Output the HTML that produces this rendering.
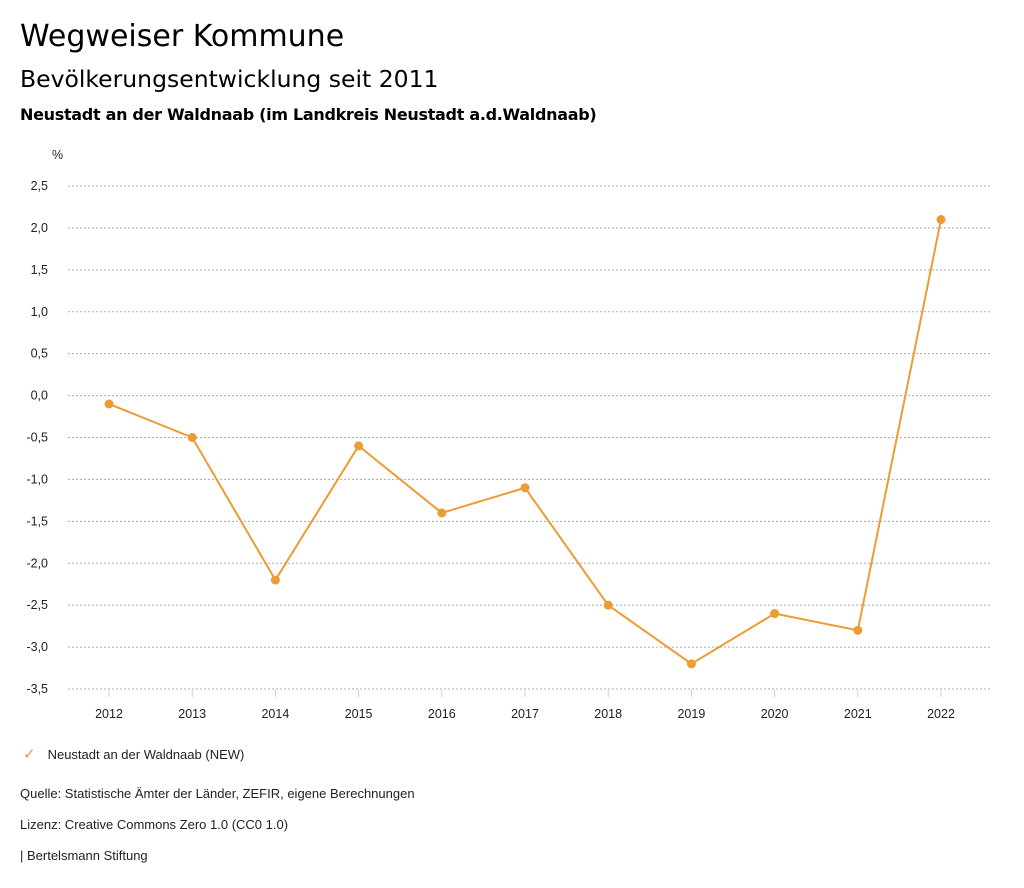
<!DOCTYPE html>
<html><head><meta charset="utf-8"><style>
body{margin:0;width:1024px;height:888px;background:#fff;font-family:"Liberation Sans",sans-serif;color:#000;position:relative;overflow:hidden}
.t{position:absolute;left:20px;white-space:nowrap}
.d{font-family:"DejaVu Sans",sans-serif}
</style></head><body>
<div class="t d" style="top:19px;font-size:30px">Wegweiser Kommune</div>
<div class="t d" style="top:65px;font-size:23.5px">Bevölkerungsentwicklung seit 2011</div>
<div class="t d" style="top:105px;font-size:16px;font-weight:bold;letter-spacing:-0.3px">Neustadt an der Waldnaab (im Landkreis Neustadt a.d.Waldnaab)</div>
<svg id="chart" width="1024" height="740" style="position:absolute;left:0;top:0" font-family="Liberation Sans, sans-serif"></svg>
<div class="t" style="top:745px;font-size:13px;color:#222"><span style="color:#ed9b33;font-size:15px;margin-right:12px;margin-left:3px">✓</span>Neustadt an der Waldnaab (NEW)</div>
<div class="t" style="top:786px;font-size:13px;color:#222">Quelle: Statistische Ämter der Länder, ZEFIR, eigene Berechnungen</div>
<div class="t" style="top:817px;font-size:13px;color:#222">Lizenz: Creative Commons Zero 1.0 (CC0 1.0)</div>
<div class="t" style="top:848px;font-size:13px;color:#222">| Bertelsmann Stiftung</div>
<script>
const years=["2012","2013","2014","2015","2016","2017","2018","2019","2020","2021","2022"];
const values=[-0.1,-0.5,-2.2,-0.6,-1.4,-1.1,-2.5,-3.2,-2.6,-2.8,2.1];
const yTicks=[2.5,2.0,1.5,1.0,0.5,0.0,-0.5,-1.0,-1.5,-2.0,-2.5,-3.0,-3.5];
const svg=document.getElementById('chart');
const NS='http://www.w3.org/2000/svg';
const x0=109,x1=941,yTop=186,yBot=689,vMax=2.5,vMin=-3.5;
const xs=i=>x0+(x1-x0)*i/(years.length-1);
const ys=v=>yTop+(vMax-v)/(vMax-vMin)*(yBot-yTop);
function mk(t,a){const e=document.createElementNS(NS,t);for(const k in a)e.setAttribute(k,a[k]);svg.appendChild(e);return e;}
let u=mk('text',{x:52,y:159,'font-size':12.5,fill:'#222'});u.textContent='%';


yTicks.forEach(v=>{
 const g=mk('line',{x1:68,x2:990,y1:ys(v),y2:ys(v),stroke:'#aaa','stroke-dasharray':'2,2','stroke-width':1});
 
 
 const t=mk('text',{x:48,y:ys(v)+4,'font-size':12.5,fill:'#222','text-anchor':'end'});
 t.textContent=v.toFixed(1).replace('.',',');
 
 
});
years.forEach((y,i)=>{
 const l=mk('line',{x1:xs(i),x2:xs(i),y1:yBot+1,y2:yBot+8,stroke:'#ccc'});
 
 
 const t=mk('text',{x:xs(i),y:718,'font-size':12.5,fill:'#222','text-anchor':'middle'});
 t.textContent=y;
 
 
});
const p=mk('polyline',{points:values.map((v,i)=>xs(i)+','+ys(v)).join(' '),fill:'none',stroke:'#ed9b33','stroke-width':2});


values.forEach((v,i)=>{
 const c=mk('circle',{cx:xs(i),cy:ys(v),r:4.5,fill:'#ed9b33'});
 
 
});
</script>
</body></html>
